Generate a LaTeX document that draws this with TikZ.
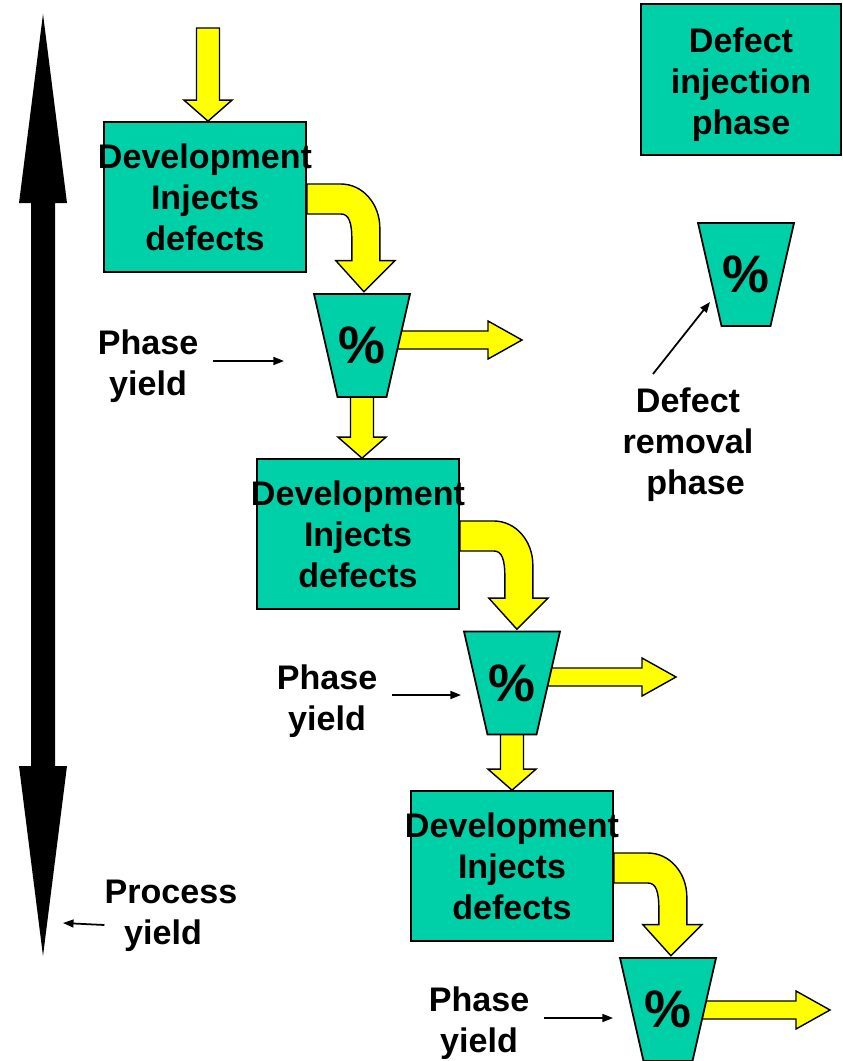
\documentclass[tikz,border=0pt]{standalone}
\usepackage{fontspec}
\setmainfont{Liberation Sans}
\usetikzlibrary{arrows.meta,calc,positioning,backgrounds}

\definecolor{phasegreen}{RGB}{0,208,168}
\definecolor{flowyellow}{RGB}{255,255,0}

\newcommand\diagfont{\bfseries\fontsize{19.4}{23.3}\selectfont}

% yellow block arrows, drawn between two named points
\newcommand\blockdown[2]{%
  \draw[flow] let \p1=(#1), \p2=(#2) in
    (\x1-0.23cm,\y1) -- (\x1+0.23cm,\y1) -- (\x1+0.23cm,\y2+0.42cm) -- (\x1+0.48cm,\y2+0.42cm)
    -- (\x1,\y2) -- (\x1-0.48cm,\y2+0.42cm) -- (\x1-0.23cm,\y2+0.42cm) -- cycle;}
\newcommand\blockright[2]{%
  \draw[flow] let \p1=(#1), \p2=(#2) in
    (\x1,\y2+0.18cm) -- (\x2-0.68cm,\y2+0.18cm) -- (\x2-0.68cm,\y2+0.38cm) -- (\x2,\y2)
    -- (\x2-0.68cm,\y2-0.38cm) -- (\x2-0.68cm,\y2-0.18cm) -- (\x1,\y2-0.18cm) -- cycle;}
\newcommand\blockbend[2]{%
  \draw[flow] let \p1=(#1), \p2=(#2) in
    (\x1,\y1+0.26cm) -- (\x1+0.68cm,\y1+0.26cm)
    .. controls (\x1+1.12cm,\y1+0.26cm) and (\x1+1.46cm,\y1-0.14cm) .. (\x1+1.46cm,\y1-0.62cm)
    -- (\x1+1.46cm,\y2+0.62cm) -- (\x1+1.76cm,\y2+0.62cm) -- (\x1+1.14cm,\y2)
    -- (\x1+0.58cm,\y2+0.62cm) -- (\x1+0.9cm,\y2+0.62cm) -- (\x1+0.9cm,\y1-0.86cm)
    .. controls (\x1+0.9cm,\y1-0.5cm) and (\x1+0.84cm,\y1-0.34cm) .. (\x1+0.68cm,\y1-0.34cm)
    -- (\x1,\y1-0.34cm) -- cycle;}

\tikzset{
  devbox/.style={draw=black, line width=1pt, fill=phasegreen, minimum width=4.04cm,
    minimum height=3cm, inner sep=0pt, align=center, font=\diagfont},
  cupbox/.style={minimum width=2cm, minimum height=2.14cm, inner sep=0pt,
    font=\bfseries\fontsize{30}{36}\selectfont,
    path picture={\filldraw[fill=phasegreen, draw=black, line width=1pt]
      ([shift={(0.04cm,-0.04cm)}]path picture bounding box.north west) --
      ([shift={(-0.04cm,-0.04cm)}]path picture bounding box.north east) --
      ([shift={(-0.51cm,0.04cm)}]path picture bounding box.south east) --
      ([shift={(0.51cm,0.04cm)}]path picture bounding box.south west) -- cycle;}},
  note/.style={align=center, font=\diagfont},
  flow/.style={draw=black, line width=0.8pt, fill=flowyellow},
  pointer/.style={draw=black, line width=1pt, -{Triangle[length=6pt,width=4.5pt]}},
}

\begin{document}
\begin{tikzpicture}[x=0.02cm, y=-0.02cm]
\useasboundingbox (0,0) rectangle (842,1061);

% process yield arrow
\fill (43,14) -- (67,203) -- (55,203) -- (55,766) -- (67,766) -- (43,956)
  -- (19,766) -- (31,766) -- (31,203) -- (19,203) -- cycle;

\node[devbox] (dev1) at (205,197) {\makebox[0pt]{Development}\\Injects\\defects};
\node[cupbox] (cup1) at (362,345.5) {\%};
\node[devbox] (dev2) at (358,534) {\makebox[0pt]{Development}\\Injects\\defects};
\node[cupbox] (cup2) at (512,683) {\%};
\node[devbox] (dev3) at (512,866) {\makebox[0pt]{Development}\\Injects\\defects};
\node[cupbox] (cup3) at (668,1009.5) {\%};

\coordinate (in0) at (208,28);
\coordinate (out1) at (522,340);
\coordinate (out2) at (676,677);
\coordinate (out3) at (830,1010);

\begin{scope}[on background layer]
\blockdown{in0}{dev1.north}
\blockbend{dev1.east}{cup1.north}
\blockright{cup1.center}{out1}
\blockdown{cup1.center}{dev2.north}
\blockbend{dev2.east}{cup2.north}
\blockright{cup2.center}{out2}
\blockdown{cup2.center}{dev3.north}
\blockbend{dev3.east}{cup3.north}
\blockright{cup3.center}{out3}
\end{scope}

% phase yield labels
\node[note] (yield1) at (148,366) {Phase\\yield};
\node[note] (yield2) at (327,701) {Phase\\yield};
\node[note] (yield3) at (479,1023) {Phase\\yield};
\coordinate (ptr1) at (284,361);
\coordinate (ptr2) at (461,695);
\coordinate (ptr3) at (613,1018);
\draw[pointer, shorten <=0.17cm] (yield1.east |- ptr1) -- (ptr1);
\draw[pointer, shorten <=0.17cm] (yield2.east |- ptr2) -- (ptr2);
\draw[pointer, shorten <=0.17cm] (yield3.east |- ptr3) -- (ptr3);

\node[note] (procyield) at (171,916) {Process\\yield\hspace*{0.32cm}};
\coordinate (procend) at (63,923);
\draw[pointer] (procyield.west) ++(0.12cm,-0.18cm) -- (procend);

% -------------------------------------------
% legend
\node[devbox, minimum width=4cm, minimum height=3.02cm,
  label={[note, yshift=-0.1cm]center:{Defect\\injection\\phase}}] (inject) at (741,79.5) {};
\node[cupbox] (cup0) at (746,274.5) {\%};
\node[note] (remove) at (688,445) {Defect\\removal\\\hspace*{0.3cm}phase};
\coordinate (legtip) at (710,302);
\draw[pointer] ([shift={(-0.7cm,0.16cm)}]remove.north) -- (legtip);

\end{tikzpicture}
\end{document}
